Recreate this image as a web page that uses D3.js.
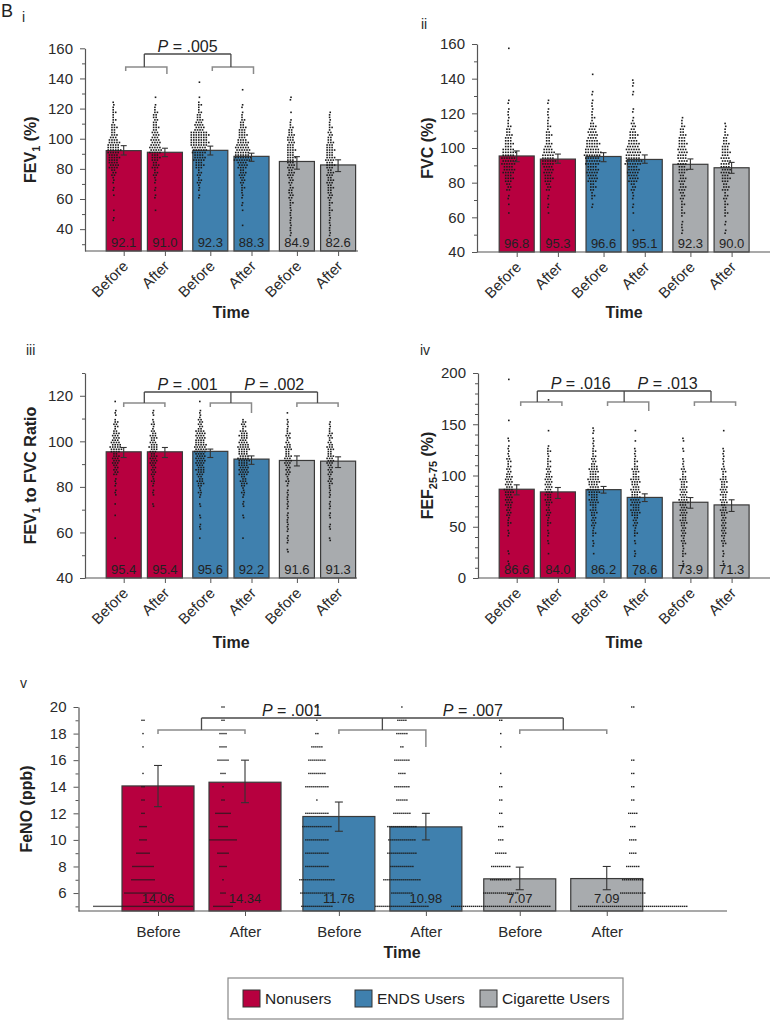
<!DOCTYPE html>
<html><head><meta charset="utf-8">
<script src="https://cdn.jsdelivr.net/npm/d3@7"></script>
<style>body{margin:0;background:#fff;} svg text{font-family:'Liberation Sans', Arial, Helvetica, sans-serif;}</style>
</head><body><svg id="chart" width="770" height="1020"></svg>
<script>
// ---------------- DATA ----------------
const groups = ["Nonusers", "ENDS Users", "Cigarette Users"];
const times = ["Before", "After"];
const groupColors = ["#B7003F", "#3F80AE", "#A8ABAE"];

// Panel i : FEV1 (%)
const fev1Means = [92.1, 91.0, 92.3, 88.3, 84.9, 82.6];
const fev1Lo = [89.2, 88.1, 89.2, 85.0, 79.8, 78.2];
const fev1Hi = [95.4, 93.7, 95.1, 90.4, 88.1, 86.0];
const fev1Labels = ["92.1", "91.0", "92.3", "88.3", "84.9", "82.6"];
const fev1BinStart = 35, fev1BinWidth = 5;
const fev1Dots = [
  [0,0,2,1,0,1,2,3,6,12,13,16,14,8,7,4,4,3,0,0,0],
  [0,0,0,1,0,2,2,3,5,8,10,15,12,9,7,6,5,2,1,0,0],
  [0,0,0,0,0,2,3,5,5,10,14,18,22,22,12,8,5,4,1,0,1],
  [0,1,0,1,2,3,4,6,8,12,20,18,14,10,8,5,2,2,0,1,0],
  [3,3,3,3,4,6,5,6,8,9,10,10,9,8,5,2,1,0,2,0,0],
  [3,3,3,4,4,6,7,8,8,10,11,10,8,6,4,3,2,0,0,0,0]
];
const fev1PValues = [".005"];

// Panel ii : FVC (%)
const fvcMeans = [95.4, 93.6, 95.1, 93.4, 90.6, 88.6];
const fvcLo = [92.1, 91.2, 92.1, 91.2, 87.7, 85.4];
const fvcHi = [98.3, 96.5, 97.3, 96.0, 93.7, 91.7];
const fvcLabels = ["96.8", "95.3", "96.6", "95.1", "92.3", "90.0"];
const fvcBinStart = 45, fvcBinWidth = 5;
const fvcDots = [
  [0,0,0,1,1,2,6,10,14,18,16,10,8,5,3,2,2,0,0,0,0,0,1],
  [1,0,0,1,2,2,6,10,12,16,14,8,7,4,3,2,2,0,0,0,0,0,0],
  [0,0,0,0,2,4,7,12,14,18,20,16,12,8,4,3,2,2,0,1,0,0,0],
  [0,1,0,1,2,3,6,12,14,20,18,14,10,6,2,2,0,2,3,0,0,0,0],
  [0,3,2,4,4,6,8,8,10,12,12,10,8,5,2,0,0,0,0,0,0,0,0],
  [0,2,2,4,4,5,8,10,12,12,10,8,5,3,0,0,0,0,0,0,0,0,0]
];

// Panel iii : FEV1 to FVC ratio
const ratioMeans = [95.4, 95.4, 95.6, 92.2, 91.6, 91.3];
const ratioLo = [92.9, 92.9, 92.9, 89.9, 89.2, 88.5];
const ratioHi = [97.3, 97.3, 96.6, 93.6, 93.6, 93.2];
const ratioLabels = ["95.4", "95.4", "95.6", "92.2", "91.6", "91.3"];
const ratioBinStart = 50, ratioBinWidth = 5;
const ratioDots = [
  [0,1,0,1,1,3,4,10,14,22,14,8,3,1],
  [0,0,0,0,2,3,6,10,14,16,12,6,3,0],
  [0,1,3,2,2,6,12,16,20,24,20,10,4,1],
  [0,1,0,2,3,6,12,20,22,22,16,8,0,0],
  [2,4,5,4,5,4,6,10,14,12,8,5,1,0],
  [0,2,3,3,4,5,8,10,14,12,8,4,0,0]
];
const ratioPValues = [".001", ".002"];

// Panel iv : FEF25-75 (%)
const fefMeans = [86.6, 84.0, 86.2, 78.6, 73.9, 71.3];
const fefLo = [81.1, 77.6, 82.8, 74.6, 68.1, 64.9];
const fefHi = [90.9, 88.3, 89.3, 82.1, 78.5, 76.3];
const fefLabels = ["86.6", "84.0", "86.2", "78.6", "73.9", "71.3"];
const fefBinStart = 0, fefBinWidth = 10;
const fefDots = [
  [0,2,2,0,3,5,8,12,14,12,8,6,4,2,0,1,0,0,0,1],
  [0,0,1,2,3,5,7,10,12,12,8,5,5,0,1,0,0,1,0,0],
  [0,0,1,3,5,8,10,14,18,18,14,8,5,3,3,0,0,0,0,0],
  [1,0,3,2,5,8,14,16,14,14,10,5,3,1,1,0,0,0,0,0],
  [0,3,5,6,8,10,12,14,12,10,6,3,2,2,0,0,0,0,0,0],
  [0,2,3,6,8,8,10,10,12,10,6,4,3,0,1,0,0,0,0,0]
];
const fefPValues = [".016", ".013"];

// Panel v : FeNO (ppb)
const fenoMeans = [14.06, 14.34, 11.76, 10.98, 7.07, 7.09];
const fenoLo = [12.5, 12.8, 10.65, 10.0, 6.25, 6.25];
const fenoHi = [15.6, 16.0, 12.85, 12.0, 7.95, 8.0];
const fenoLabels = ["14.06", "14.34", "11.76", "10.98", "7.07", "7.09"];
const fenoBinStart = 5, fenoBinWidth = 1;
const fenoDots = [
  [50,19,12,11,7,4,4,2,2,2,1,0,1,1,2,0],
  [10,3,1,4,6,14,5,8,2,1,3,6,4,4,2,2],
  [16,17,18,12,12,12,15,12,1,12,9,9,6,2,1,2],
  [27,11,19,12,15,14,15,9,6,8,4,8,2,6,5,1],
  [50,18,11,10,6,3,3,2,2,2,1,0,1,1,2,0],
  [55,13,11,7,4,4,3,5,2,2,2,2,0,0,0,2]
];
const fenoPValues = [".001", ".007"];

// ---------------- DRAWING ----------------
const svg = d3.select("#chart");
const TXT = "#2a2a2a", AX = "#555";

function swarm(counts, binStart, binWidth, y, cx, hs, rowGap, exact) {
  const pts = [];
  counts.forEach((n, i) => {
    if (!n) return;
    const v0 = binStart + i * binWidth, v1 = v0 + binWidth;
    if (exact) {
      const py = y(v0);
      for (let j = 0; j < n; j++) pts.push([cx + (j - (n - 1) / 2) * hs, py]);
      return;
    }
    const p0 = y(v0), p1 = y(v1);
    const rows = Math.max(1, Math.round(Math.abs(p0 - p1) / rowGap));
    const mid = (rows - 1) / 2;
    const order = d3.range(rows).sort((a, b) => Math.abs(a - mid) - Math.abs(b - mid) || a - b);
    const per = new Array(rows).fill(0);
    for (let k = 0; k < n; k++) per[order[k % rows]]++;
    per.forEach((c, r) => {
      const py = p0 + (p1 - p0) * (r + 0.5) / rows;
      const sh = (r % 2) ? hs / 2 : 0;
      for (let j = 0; j < c; j++) pts.push([cx + (j - (c - 1) / 2) * hs + (c > 1 ? sh : sh / 2), py]);
    });
  });
  return pts;
}

function panel(cfg) {
  const root = svg.append("g");
  const y = d3.scaleLinear().domain(cfg.domain).range([cfg.bottom, cfg.top]);
  const gx = d3.scalePoint().domain(groups).range(cfg.groupRange);
  const tx = d3.scaleBand().domain(times).range([-cfg.step, cfg.step]).paddingInner(cfg.padIn).paddingOuter(cfg.padIn / 2);
  const bw = tx.bandwidth();
  const bars = d3.range(6).map(k => ({
    k, gi: Math.floor(k / 2), group: groups[Math.floor(k / 2)], time: times[k % 2],
    mean: cfg.means[k], lo: cfg.lo[k], hi: cfg.hi[k], label: cfg.labels[k], dots: cfg.dots[k]
  }));
  const xc = b => gx(b.group) + tx(b.time) + bw / 2;

  // panel label
  root.append("text").attr("x", cfg.tag[0]).attr("y", cfg.tag[1]).attr("font-size", 14).attr("fill", TXT).text(cfg.tagText);

  // minor y ticks
  root.append("g").attr("transform", `translate(${cfg.left},0)`)
    .call(d3.axisLeft(y).tickValues(cfg.minor).tickSize(3).tickFormat("").tickSizeOuter(0))
    .call(g => { g.select(".domain").remove(); g.selectAll("line").attr("stroke", AX); });
  // major y ticks
  root.append("g").attr("transform", `translate(${cfg.left},0)`)
    .call(d3.axisLeft(y).tickValues(cfg.major).tickSize(5).tickPadding(7).tickSizeOuter(0))
    .call(g => {
      g.select(".domain").attr("stroke", AX).attr("stroke-width", 1.2);
      g.selectAll("line").attr("stroke", AX);
      g.selectAll("text").attr("font-size", 15).attr("fill", TXT).attr("font-family", null);
    });

  // bars
  root.append("g").selectAll("rect").data(bars).join("rect")
    .attr("x", b => xc(b) - bw / 2).attr("width", bw)
    .attr("y", b => y(b.mean)).attr("height", b => cfg.bottom - y(b.mean))
    .attr("fill", b => groupColors[b.gi]).attr("stroke", "#3a3a3a").attr("stroke-width", 1.2);

  // dots
  const dotG = root.append("g").attr("fill", "#1b1b1b");
  bars.forEach(b => {
    const pts = swarm(b.dots, cfg.binStart, cfg.binWidth, y, xc(b) + cfg.dotOffsets[b.k], cfg.hs, cfg.rowGap, cfg.exact);
    dotG.selectAll(null).data(pts).join("rect")
      .attr("x", p => p[0] - cfg.dotSize / 2).attr("y", p => p[1] - cfg.dotSize / 2)
      .attr("width", cfg.dotSize).attr("height", cfg.dotSize);
  });

  // error bars
  const eg = root.append("g").attr("stroke", "#333").attr("stroke-width", 1.1).attr("fill", "none");
  bars.forEach(b => {
    const x = xc(b) + cfg.errOffset;
    eg.append("line").attr("x1", x).attr("x2", x).attr("y1", y(b.lo)).attr("y2", y(b.hi));
    eg.append("line").attr("x1", x - cfg.cap).attr("x2", x + cfg.cap).attr("y1", y(b.lo)).attr("y2", y(b.lo));
    eg.append("line").attr("x1", x - cfg.cap).attr("x2", x + cfg.cap).attr("y1", y(b.hi)).attr("y2", y(b.hi));
  });

  // value labels
  root.append("g").selectAll("text").data(bars).join("text")
    .attr("x", b => xc(b)).attr("y", cfg.bottom - cfg.valueGap)
    .attr("text-anchor", "middle").attr("font-size", cfg.valueFont).attr("fill", "#222")
    .text(b => b.label);

  // x axis
  root.append("line").attr("x1", cfg.left).attr("x2", cfg.right).attr("y1", cfg.bottom).attr("y2", cfg.bottom)
    .attr("stroke", AX).attr("stroke-width", 1.2);
  const xb = d3.scaleOrdinal().domain(bars.map(b => b.k)).range(bars.map(xc));
  const xa = root.append("g").attr("transform", `translate(0,${cfg.bottom})`)
    .call(d3.axisBottom(xb).tickFormat(k => times[k % 2]).tickSize(5).tickPadding(10).tickSizeOuter(0))
    .call(g => {
      g.select(".domain").remove();
      g.selectAll("line").attr("stroke", AX);
      g.selectAll("text").attr("font-size", 15).attr("fill", TXT).attr("font-family", null);
    });
  if (cfg.rotate) {
    xa.selectAll("text").attr("x", null).attr("y", null).attr("dy", null)
      .attr("text-anchor", "end").attr("transform", "translate(5,16) rotate(-45)");
  }

  // axis titles
  root.append("text").attr("x", cfg.timeX).attr("y", cfg.timeY).attr("text-anchor", "middle")
    .attr("font-size", 16).attr("font-weight", "bold").attr("fill", "#222").text("Time");
  const yl = root.append("text").attr("transform", `translate(${cfg.yLabelX},${(cfg.top + cfg.bottom) / 2}) rotate(-90)`)
    .attr("text-anchor", "middle").attr("font-size", 16).attr("font-weight", "bold").attr("fill", "#222");
  cfg.yLabel.forEach(part => {
    const t = yl.append("tspan").text(part.t);
    if (part.sub) t.attr("font-size", 11).attr("dy", 4);
    if (part.up) t.attr("dy", -4);
  });

  // brackets
  if (cfg.pValues) {
    const bg = root.append("g").attr("fill", "none");
    const gc = groups.map(g => gx(g));
    const nTop = cfg.pValues.length + 1;
    // lower brackets
    cfg.lowerDrops.forEach((dr, gi) => {
      const a = xc(bars[gi * 2]) + cfg.brShift, b = xc(bars[gi * 2 + 1]) + cfg.brShift;
      bg.append("path").attr("stroke", "#8a8a8a").attr("stroke-width", 1.5)
        .attr("d", `M${a},${cfg.lowY + dr[0]}V${cfg.lowY}H${b}V${cfg.lowY + dr[1]}`);
    });
    // top bracket
    const tg = gc.slice(0, nTop);
    bg.append("path").attr("stroke", "#4a4a4a").attr("stroke-width", 1.3)
      .attr("d", `M${tg[0]},${cfg.topY}H${tg[tg.length - 1]}` + tg.map(x => `M${x},${cfg.topY}V${cfg.lowY}`).join(""));
    cfg.pValues.forEach((p, i) => {
      const t = root.append("text").attr("x", (tg[i] + tg[i + 1]) / 2).attr("y", cfg.topY - 2)
        .attr("text-anchor", "middle").attr("font-size", 16).attr("fill", "#222");
      t.append("tspan").attr("font-style", "italic").text("P");
      t.append("tspan").text(" = " + p);
    });
  }
}

const common = {step: 41.2, padIn: 0.15, rotate: true, hs: 2.5, rowGap: 2.5, dotSize: 1.6, cap: 3, errOffset: 0, valueGap: 4, valueFont: 13, exact: false, brShift: 2};

panel(Object.assign({}, common, {
  left: 85, right: 358, top: 48.3, bottom: 251, domain: [25.5, 160], groupRange: [144.3, 317.5],
  major: d3.range(40, 161, 20), minor: d3.range(30, 151, 20),
  means: fev1Means, lo: fev1Lo, hi: fev1Hi, labels: fev1Labels, dots: fev1Dots,
  binStart: fev1BinStart, binWidth: fev1BinWidth, dotOffsets: [-10.5, -10, -11.5, -9.5, -6.5, -8.5],
  tag: [22, 22], tagText: "i", timeX: 231, timeY: 318, yLabelX: 36,
  yLabel: [{t: "FEV"}, {t: "1", sub: true}, {t: " (%)", up: true}],
  pValues: fev1PValues, topY: 54, lowY: 67, lowerDrops: [[4, 7], [4, 7]]
}));

panel(Object.assign({}, common, {
  left: 477, right: 770, top: 44, bottom: 252, domain: [40, 160], groupRange: [537.3, 711],
  major: d3.range(40, 161, 20), minor: d3.range(50, 151, 20),
  means: fvcMeans, lo: fvcLo, hi: fvcHi, labels: fvcLabels, dots: fvcDots,
  binStart: fvcBinStart, binWidth: fvcBinWidth, dotOffsets: [-8.5, -10, -11.5, -12, -8.5, -6.5],
  tag: [421, 29], tagText: "ii", timeX: 624, timeY: 318, yLabelX: 433,
  yLabel: [{t: "FVC (%)"}], pValues: null
}));

panel(Object.assign({}, common, {
  left: 85, right: 357, top: 373, bottom: 578, domain: [40, 130], groupRange: [144.3, 317.5],
  major: d3.range(40, 121, 20), minor: d3.range(50, 131, 20),
  means: ratioMeans, lo: ratioLo, hi: ratioHi, labels: ratioLabels, dots: ratioDots,
  binStart: ratioBinStart, binWidth: ratioBinWidth, dotOffsets: [-8.5, -12, -10.5, -8.5, -9.5, -8.5],
  tag: [26, 355], tagText: "iii", timeX: 231, timeY: 648, yLabelX: 36,
  yLabel: [{t: "FEV"}, {t: "1", sub: true}, {t: " to FVC Ratio", up: true}],
  pValues: ratioPValues, topY: 392, lowY: 403, lowerDrops: [[4, 4], [4, 10], [4, 4]], brShift: 0
}));

panel(Object.assign({}, common, {
  left: 478, right: 770, top: 373, bottom: 578, domain: [0, 200], groupRange: [537.3, 711],
  major: d3.range(0, 201, 50), minor: d3.range(10, 200, 10).filter(v => v % 50),
  means: fefMeans, lo: fefLo, hi: fefHi, labels: fefLabels, dots: fefDots,
  binStart: fefBinStart, binWidth: fefBinWidth, dotOffsets: [-8.5, -10, -10.5, -10, -7.5, -8.5],
  tag: [420, 355], tagText: "iv", timeX: 624, timeY: 648, yLabelX: 433,
  yLabel: [{t: "FEF"}, {t: "25-75", sub: true}, {t: " (%)", up: true}],
  pValues: fefPValues, topY: 391, lowY: 402, lowerDrops: [[4, 4], [4, 9], [4, 4]], brShift: 4
}));

panel(Object.assign({}, common, {
  left: 78.5, right: 727, top: 707, bottom: 911, domain: [4.65, 20], groupRange: [201.5, 563.25],
  step: 87, padIn: 0.1724, rotate: false, hs: 2.0, dotSize: 1.4, cap: 4, valueGap: 8, valueFont: 13, exact: true,
  major: d3.range(6, 21, 2), minor: d3.range(5, 20, 2),
  means: fenoMeans, lo: fenoLo, hi: fenoHi, labels: fenoLabels, dots: fenoDots,
  binStart: fenoBinStart, binWidth: fenoBinWidth, dotOffsets: [-15, -22, -22, -24, -19, 26],
  tag: [20, 688], tagText: "v", timeX: 402, timeY: 958, yLabelX: 32,
  yLabel: [{t: "FeNO (ppb)"}],
  pValues: fenoPValues, topY: 718, lowY: 730, lowerDrops: [[4, 4], [4, 17], [4, 4]], brShift: 0
}));

// figure letter
svg.append("text").attr("x", 1).attr("y", 17).attr("font-size", 18).attr("fill", "#222").text("B");

// legend
const lg = svg.append("g");
lg.append("rect").attr("x", 228).attr("y", 978).attr("width", 395).attr("height", 41)
  .attr("fill", "#fff").attr("stroke", "#888").attr("stroke-width", 1.2);
const legX = d3.scaleOrdinal().domain(groups).range([243, 355, 480]);
const li = lg.selectAll("g.item").data(groups).join("g").attr("class", "item")
  .attr("transform", d => `translate(${legX(d)},990)`);
li.append("rect").attr("width", 17).attr("height", 17).attr("fill", (d, i) => groupColors[i])
  .attr("stroke", "#333").attr("stroke-width", 1);
li.append("text").attr("x", 22).attr("y", 14).attr("font-size", 15.5).attr("fill", "#222").text(d => d);
</script></body></html>
